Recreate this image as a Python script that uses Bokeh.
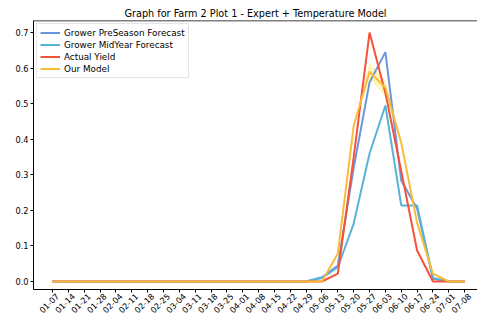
import math
from bokeh.plotting import figure
from bokeh.models import Range1d, FixedTicker, Legend, LegendItem, Span, LinearAxis
from bokeh.embed import file_html
from bokeh.resources import INLINE

dates = ["01-07", "01-14", "01-21", "01-28", "02-04", "02-11", "02-18", "02-25",
         "03-04", "03-11", "03-18", "03-25", "04-01", "04-08", "04-15", "04-22",
         "04-29", "05-06", "05-13", "05-20", "05-27", "06-03", "06-10", "06-17",
         "06-24", "07-01", "07-08"]
preseason = [0, 0, 0, 0, 0, 0, 0, 0, 0, 0, 0, 0, 0, 0, 0, 0,
             0.0, 0.012, 0.045, 0.32, 0.56, 0.645, 0.284, 0.205, 0.008, 0.0, 0.0]
midyear = [0, 0, 0, 0, 0, 0, 0, 0, 0, 0, 0, 0, 0, 0, 0, 0,
           0.0, 0.01, 0.04, 0.163, 0.36, 0.495, 0.214, 0.214, 0.01, 0.0, 0.0]
actual = [0, 0, 0, 0, 0, 0, 0, 0, 0, 0, 0, 0, 0, 0, 0, 0,
          0.0, 0.0, 0.022, 0.35, 0.70, 0.53, 0.31, 0.087, 0.0, 0.0, 0.0]
model = [0, 0, 0, 0, 0, 0, 0, 0, 0, 0, 0, 0, 0, 0, 0, 0,
         0.0, 0.0, 0.079, 0.438, 0.59, 0.545, 0.39, 0.165, 0.022, 0.0, 0.0]
band_idx = [19, 20, 21, 22]
band_low = [0.438, 0.57, 0.52, 0.39]
band_high = [0.438, 0.615, 0.565, 0.39]
yticks = [0.0, 0.1, 0.2, 0.3, 0.4, 0.5, 0.6, 0.7]

x = list(range(len(dates)))
FONT = "DejaVu Sans"
LABEL_SHIFT = 0.3  # horizontal shift of the rotated date labels, in x units

Y0, Y1 = -0.0225, 0.734

p = figure(width=477, height=319, output_backend="svg", toolbar_location=None,
           x_range=Range1d(-1.2, 26.81), y_range=Range1d(Y0, Y1),
           title="Graph for Farm 2 Plot 1 - Expert + Temperature Model")
p.title.align = "center"
p.title.text_font = FONT
p.title.text_font_size = "9.7px"
p.title.text_font_style = "normal"
p.title.text_color = "#000000"
p.title.standoff = 3
p.grid.visible = False
p.outline_line_color = None
p.background_fill_color = "white"
p.border_fill_color = "white"
p.min_border_left = 33
p.min_border_right = 0
p.min_border_top = 20
p.min_border_bottom = 0

for ax in (p.xaxis[0], p.yaxis[0]):
    ax.major_label_text_font = FONT
    ax.major_label_text_font_size = "8.2px"
    ax.major_label_text_color = "#000000"
    ax.axis_line_color = "#000000"
    ax.axis_line_width = 1
    ax.major_tick_line_color = "#000000"
    ax.major_tick_in = 0
    ax.major_tick_out = 3
    ax.minor_tick_line_color = None

p.yaxis.major_label_standoff = 2
p.yaxis.ticker = FixedTicker(ticks=yticks)
p.yaxis.major_label_overrides = {v: f"{v:.1f}" for v in yticks}

# visible x axis: line + ticks only
p.xaxis.ticker = FixedTicker(ticks=x)
p.xaxis.major_label_overrides = {i: "" for i in x}
p.xaxis.major_label_standoff = 0

# second axis carrying the rotated date labels
shifted = [i + LABEL_SHIFT for i in x]
lab_axis = LinearAxis(ticker=FixedTicker(ticks=shifted),
                      major_label_overrides={s: d for s, d in zip(shifted, dates)},
                      axis_line_color=None, major_tick_line_color=None,
                      minor_tick_line_color=None, major_tick_in=0, major_tick_out=0,
                      major_label_standoff=2, major_label_orientation=math.pi / 4,
                      major_label_text_font=FONT, major_label_text_font_size="8.2px",
                      major_label_text_color="#000000")
p.add_layout(lab_axis, "below")

p.add_layout(Span(location=Y1, dimension="width", line_color="#000000", line_width=1.5))

p.varea(x=band_idx, y1=band_low, y2=band_high, fill_color="#fff1a0", fill_alpha=0.7)

r1 = p.line(x, preseason, line_color="#6b96de", line_width=2)
r2 = p.line(x, midyear, line_color="#58b4d6", line_width=2)
r3 = p.line(x, actual, line_color="#f5523a", line_width=2)
r4 = p.line(x, model, line_color="#fbbb3a", line_width=2)

legend = Legend(items=[
    LegendItem(label="Grower PreSeason Forecast", renderers=[r1]),
    LegendItem(label="Grower MidYear Forecast", renderers=[r2]),
    LegendItem(label="Actual Yield", renderers=[r3]),
    LegendItem(label="Our Model", renderers=[r4]),
], location="top_left")
legend.label_text_font = FONT
legend.label_text_font_size = "8.8px"
legend.label_text_color = "#000000"
legend.glyph_width = 20
legend.glyph_height = 11
legend.label_height = 11
legend.spacing = 1
legend.padding = 3
legend.margin = 3
legend.label_standoff = 4
legend.border_line_color = "#cccccc"
legend.border_line_width = 1
legend.background_fill_alpha = 0.8
p.add_layout(legend)

open("out.html", "w").write(file_html(p, INLINE))
